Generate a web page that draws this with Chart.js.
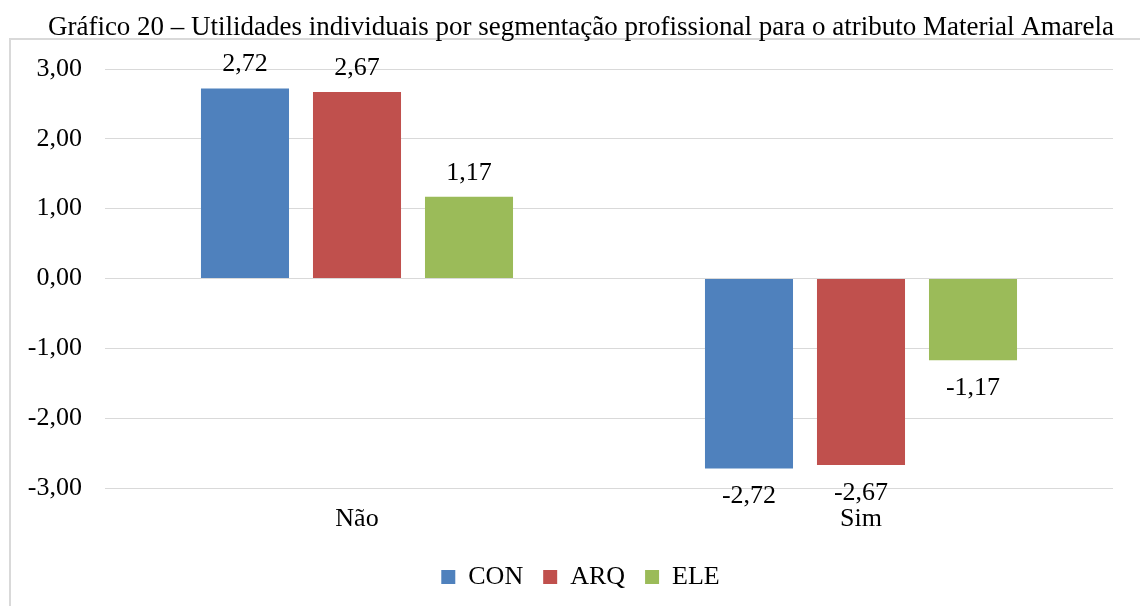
<!DOCTYPE html>
<html>
<head>
<meta charset="utf-8">
<script src="https://cdn.jsdelivr.net/npm/chart.js@4"></script>
<style>
  html, body { margin: 0; padding: 0; background: #fff; }
  #wrap { width: 1140px; height: 606px; }
</style>
</head>
<body>
<div id="wrap"><canvas id="chart" width="1140" height="606"></canvas></div>
<script>
// Data
const categories = ['Não', 'Sim'];
const conValues = [2.72, -2.72];
const arqValues = [2.67, -2.67];
const eleValues = [1.17, -1.17];
const seriesNames = ['CON', 'ARQ', 'ELE'];
const titleText = 'Gráfico 20 – Utilidades individuais por segmentação profissional para o atributo Material Amarela';

const FONT = '"Liberation Serif", "Times New Roman", serif';
const FS = 26;

function fmt(v) {
    return v.toFixed(2).replace('.', ',');
}

// Outer frame + title, and nudge the legend so it centres on the frame
const framePlugin = {
    id: 'frame',
    afterLayout(chart) {
        if (chart.legend) {
            chart.legend.left += 24;
            chart.legend.right += 24;
        }
    },
    beforeDraw(chart) {
        const ctx = chart.ctx;
        ctx.save();
        ctx.fillStyle = '#d9d9d9';
        ctx.fillRect(9, 38, 2, 620);
        ctx.fillRect(9, 38, 1140, 2);
        ctx.fillStyle = '#000';
        ctx.font = '27px ' + FONT;
        ctx.textAlign = 'center';
        ctx.textBaseline = 'middle';
        ctx.fillText(titleText, 581, 28);
        ctx.restore();
    }
};

// Value labels above / below the bars
const valueLabels = {
    id: 'valueLabels',
    afterDatasetsDraw(chart) {
        const ctx = chart.ctx;
        ctx.save();
        ctx.fillStyle = '#000';
        ctx.font = FS + 'px ' + FONT;
        ctx.textAlign = 'center';
        ctx.textBaseline = 'middle';
        chart.data.datasets.forEach((ds, i) => {
            const meta = chart.getDatasetMeta(i);
            meta.data.forEach((bar, j) => {
                const v = ds.data[j];
                const y = v >= 0 ? bar.y - 24 : bar.y + 28;
                ctx.fillText(fmt(v), bar.x, y);
            });
        });
        ctx.restore();
    }
};

const ctx = document.getElementById('chart').getContext('2d');
new Chart(ctx, {
    type: 'bar',
    data: {
        labels: categories,
        datasets: [
            { label: seriesNames[0], data: conValues, backgroundColor: '#4f81bd' },
            { label: seriesNames[1], data: arqValues, backgroundColor: '#c0504d' },
            { label: seriesNames[2], data: eleValues, backgroundColor: '#9bbb59' }
        ]
    },
    options: {
        responsive: false,
        animation: false,
        categoryPercentage: 0.6667,
        barPercentage: 0.786,
        layout: { padding: { top: 69, left: 0, right: 27, bottom: 6 } },
        plugins: {
            title: { display: false },
            tooltip: { enabled: false },
            legend: {
                position: 'bottom',
                labels: {
                    boxWidth: 14,
                    boxHeight: 14,
                    padding: 20,
                    color: '#000',
                    font: { family: FONT, size: FS }
                }
            }
        },
        scales: {
            x: {
                grid: { display: false },
                border: { display: false },
                ticks: { color: '#000', padding: 8, font: { family: FONT, size: FS } },
                afterFit(scale) { scale.height = 56; }
            },
            y: {
                min: -3,
                max: 3,
                grid: { color: '#d9d9d9', lineWidth: 1, drawTicks: false },
                border: { display: false },
                ticks: {
                    stepSize: 1,
                    padding: 23,
                    color: '#000',
                    font: { family: FONT, size: FS },
                    callback: (v) => fmt(v)
                },
                afterFit(scale) { scale.width = 105; }
            }
        }
    },
    plugins: [framePlugin, valueLabels]
});
</script>
</body>
</html>
